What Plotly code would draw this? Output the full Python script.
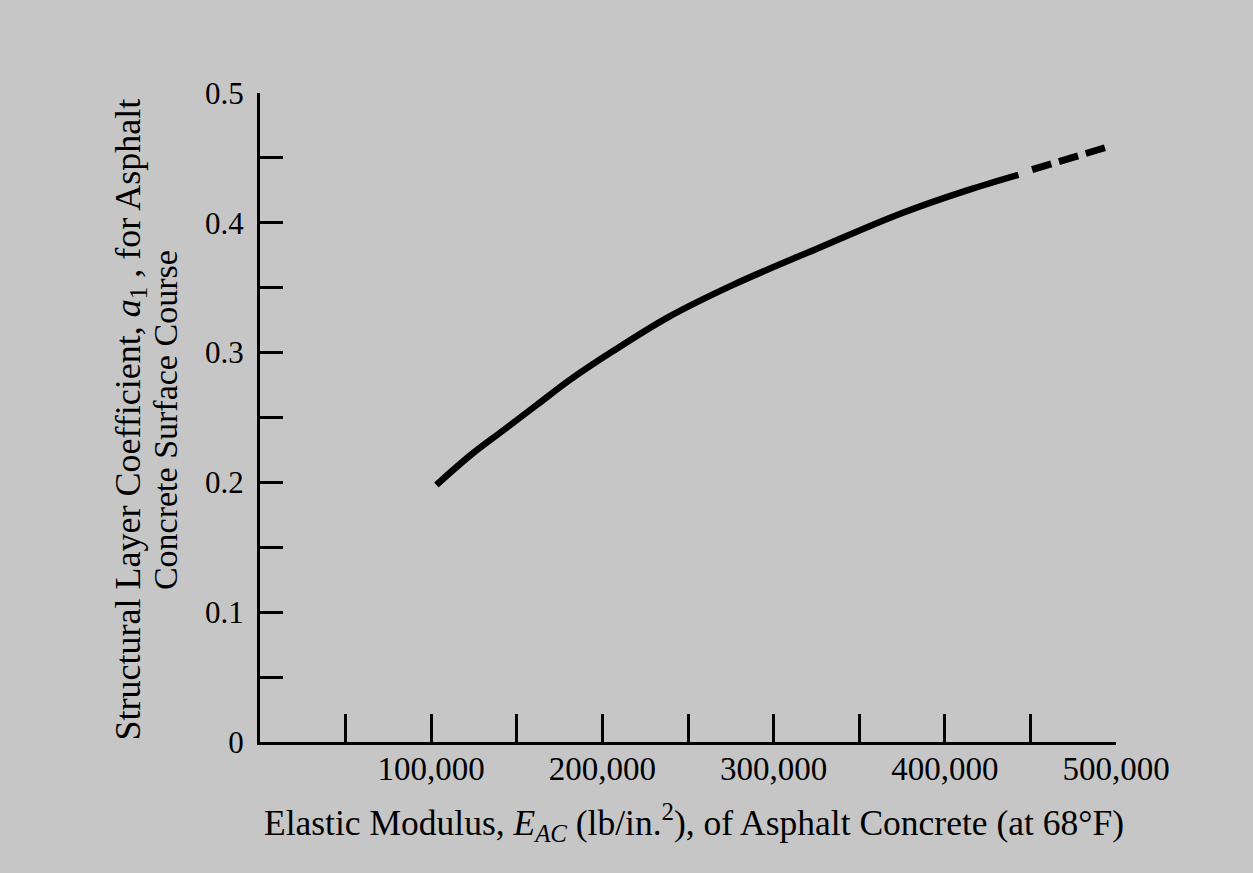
import plotly.graph_objects as go

# Data
solid_x = [103000, 123000, 142000, 162000, 181000, 206000, 238000, 276000, 327000, 374000, 413000, 443000]
solid_y = [0.198, 0.221, 0.240, 0.260, 0.279, 0.301, 0.327, 0.352, 0.381, 0.407, 0.425, 0.437]
dash_x = [451000, 464000, 479000, 494000]
dash_y = [0.441, 0.446, 0.451, 0.458]

x_tickvals = [100000, 200000, 300000, 400000, 500000]
x_ticktext = ["100,000", "200,000", "300,000", "400,000", "500,000"]
y_tickvals = [0, 0.1, 0.2, 0.3, 0.4, 0.5]
y_ticktext = ["0", "0.1", "0.2", "0.3", "0.4", "0.5"]

BG = "#c6c6c6"
INK = "#000000"
FONT = "Liberation Serif"

fig = go.Figure()
fig.add_trace(go.Scatter(x=solid_x, y=solid_y, mode="lines",
                         line=dict(color=INK, width=6.5, shape="spline", smoothing=1.0),
                         showlegend=False, hoverinfo="skip"))
fig.add_trace(go.Scatter(x=dash_x, y=dash_y, mode="lines",
                         line=dict(color=INK, width=7, dash="20px,8px"),
                         showlegend=False, hoverinfo="skip"))

fig.update_layout(
    width=1253, height=873,
    margin=dict(l=260, r=137, t=93, b=131),
    paper_bgcolor=BG, plot_bgcolor=BG,
    font=dict(family=FONT, color=INK),
    xaxis=dict(range=[0, 500000], tickvals=x_tickvals, ticktext=x_ticktext,
               ticks="inside", ticklen=28, tickwidth=3, tickcolor=INK,
               minor=dict(tick0=0, dtick=50000, ticks="inside", ticklen=28,
                          tickwidth=3, tickcolor=INK, showgrid=False),
               showline=True, linewidth=3, linecolor=INK,
               showgrid=False, zeroline=False,
               tickfont=dict(family=FONT, size=33, color=INK),
               ticklabelstandoff=-5),
    yaxis=dict(range=[0, 0.5], tickvals=y_tickvals, ticktext=y_ticktext,
               ticks="inside", ticklen=23, tickwidth=3, tickcolor=INK,
               minor=dict(tick0=0, dtick=0.05, ticks="inside", ticklen=23,
                          tickwidth=3, tickcolor=INK, showgrid=False),
               showline=True, linewidth=3, linecolor=INK,
               showgrid=False, zeroline=False,
               tickfont=dict(family=FONT, size=31, color=INK),
               ticklabelstandoff=7),
    annotations=[
        dict(text="Structural Layer Coefficient, <i>a</i><sub>1</sub> , for Asphalt",
             xref="paper", yref="paper", x=-0.1519, y=0.497,
             xanchor="center", yanchor="middle", textangle=-90, showarrow=False,
             font=dict(family=FONT, size=36, color=INK)),
        dict(text="Concrete Surface Course",
             xref="paper", yref="paper", x=-0.111, y=0.496,
             xanchor="center", yanchor="middle", textangle=-90, showarrow=False,
             font=dict(family=FONT, size=34, color=INK)),
        dict(text="Elastic Modulus, <i>E</i><sub><i>AC</i></sub> (lb/in.<sup>2</sup>), of Asphalt Concrete (at 68°F)",
             xref="paper", yref="paper", x=0.507, y=-0.1240,
             xanchor="center", yanchor="middle", showarrow=False,
             font=dict(family=FONT, size=35.5, color=INK)),
    ],
)

fig.write_html("out.html", config={"displayModeBar": False},
               post_script="document.body.style.margin='0';")
